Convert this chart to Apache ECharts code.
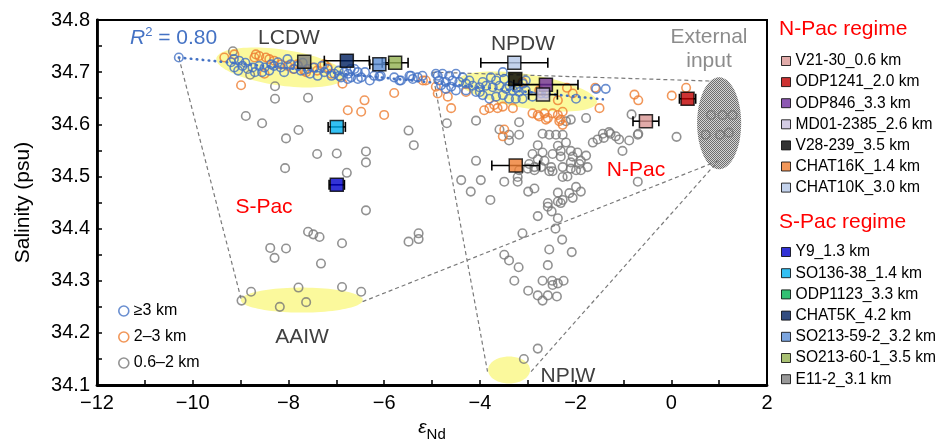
<!DOCTYPE html>
<html>
<head>
<meta charset="utf-8">
<title>eNd vs salinity</title>
<script src="https://cdn.jsdelivr.net/npm/echarts@6/dist/echarts.min.js"></script>
</head>
<body style="margin:0">
<div id="main" style="width:937px;height:447px;"></div>
<script type="text/javascript">
// seawater data, [eNd, salinity], by water depth
var deepPts = [
  [-10.29,34.728],
  [-9.20,34.719],[-9.14,34.725],[-9.03,34.722],[-9.13,34.709],[-8.96,34.712],[-8.85,34.706],[-8.75,34.709],
  [-8.61,34.712],[-8.50,34.709],[-8.36,34.715],[-8.22,34.719],[-8.16,34.709],[-8.02,34.725],[-7.95,34.715],
  [-7.88,34.706],[-8.09,34.700],[-7.74,34.703],[-7.60,34.706],[-7.46,34.709],[-7.39,34.693],[-7.25,34.700],
  [-7.18,34.706],[-7.04,34.697],[-6.90,34.690],[-6.83,34.700],[-6.69,34.690],[-6.62,34.706],[-6.55,34.700],
  [-6.48,34.690],[-6.21,34.693],[-6.10,34.692],[-5.79,34.690],[-5.65,34.684],[-5.44,34.693],[-5.30,34.690],
  [-4.88,34.693],[-4.85,34.684],[-4.81,34.675],
  [-8.90,34.718],[-8.70,34.700],[-8.40,34.703],[-8.30,34.712],[-7.80,34.712],[-7.55,34.697],[-7.30,34.712],
  [-7.10,34.693],[-6.95,34.703],[-6.75,34.697],[-6.70,34.706],[-6.40,34.700],[-6.30,34.684],[-9.05,34.703],
  [-8.55,34.700],[-7.70,34.718],[-6.55,34.687],[-6.76,34.687],[-6.94,34.693],[-6.07,34.693],[-5.68,34.684],
  [-5.47,34.693],[-5.40,34.687],[-5.20,34.693],
  [-4.92,34.697],[-4.78,34.697],[-4.64,34.693],[-4.50,34.697],[-4.71,34.681],[-4.57,34.684],[-4.43,34.681],
  [-4.29,34.678],[-4.15,34.674],[-4.01,34.671],[-3.87,34.674],[-3.73,34.671],[-3.59,34.674],[-3.77,34.690],
  [-3.49,34.687],[-3.45,34.668],[-3.31,34.665],[-3.18,34.662],[-3.04,34.665],[-3.10,34.678],[-3.52,34.656],
  [-3.66,34.653],[-3.80,34.649],[-3.94,34.656],[-4.08,34.662],[-4.29,34.665],[-3.39,34.649],[-3.25,34.649],
  [-3.11,34.649],[-2.90,34.653],[-2.72,34.659],[-2.62,34.659],[-3.04,34.684],[-3.52,34.700],[-4.50,34.665],
  [-4.71,34.668],[-1.99,34.649],[-1.57,34.668],[-1.37,34.668],
  [-4.36,34.690],[-4.22,34.684],[-3.94,34.681],[-3.66,34.684],[-3.38,34.674],[-4.60,34.672],[-4.00,34.662],[-3.24,34.670]
];
var midPts = [
  [-9.34,34.728],[-9.13,34.734],[-8.71,34.728],[-8.61,34.731],[-8.47,34.728],[-8.40,34.725],[-8.30,34.722],
  [-8.16,34.715],[-8.02,34.712],[-7.81,34.715],[-7.67,34.703],[-7.63,34.700],[-7.49,34.709],[-7.25,34.715],
  [-7.18,34.709],[-8.50,34.697],[-8.68,34.734],[-8.99,34.675],[-6.87,34.678],[-6.41,34.646],[-6.76,34.627],
  [-6.48,34.624],[-5.79,34.660],[-6.00,34.618],[-5.19,34.684],[-4.88,34.659],[-7.11,34.697],[-7.40,34.703],
  [-7.90,34.706],
  [-5.13,34.684],[-4.92,34.672],[-4.67,34.653],[-4.60,34.631],[-4.29,34.662],[-3.91,34.627],[-3.80,34.631],
  [-3.70,34.637],[-3.63,34.631],[-3.52,34.634],[-3.31,34.631],[-2.90,34.621],[-2.76,34.615],[-2.65,34.621],
  [-2.58,34.612],[-2.48,34.621],[-2.37,34.618],[-2.27,34.624],[-2.34,34.606],[-2.27,34.599],[-2.37,34.646],
  [-2.06,34.659],[-1.59,34.670],[-1.50,34.631],[-3.49,34.590],[-3.11,34.681],[-2.76,34.665],[-0.77,34.657],
  [-0.69,34.646],[0.01,34.655],[0.31,34.670],[-2.18,34.670],[-2.79,34.618],[-2.62,34.609],[-2.31,34.609],
  [-3.52,34.577]
];
var shallowPts = [
  [-9.16,34.740],[-8.80,34.695],[-8.28,34.673],[-8.28,34.649],[-7.59,34.651],[-8.89,34.616],[-8.55,34.602],
  [-7.79,34.589],[-8.05,34.573],[-5.49,34.588],[-5.38,34.560],[-7.40,34.543],[-6.99,34.544],[-6.38,34.548],
  [-6.38,34.527],[-8.07,34.516],[-6.78,34.507],[-6.38,34.435],[-7.59,34.394],[-7.48,34.389],[-7.35,34.384],
  [-6.88,34.372],[-8.38,34.363],[-8.05,34.362],[-8.29,34.344],[-7.32,34.333],[-5.49,34.375],[-5.28,34.391],
  [-5.28,34.380],[-8.78,34.279],[-8.98,34.262],[-7.79,34.287],[-8.18,34.250],[-7.63,34.259],[-6.88,34.288],
  [-6.48,34.279],
  [-4.69,34.602],[-4.08,34.607],[-3.18,34.604],[-1.78,34.612],[-2.10,34.609],[-2.20,34.606],[-3.39,34.580],
  [-3.18,34.580],[-3.39,34.569],[-3.59,34.590],[-2.69,34.582],[-2.55,34.580],[-2.41,34.580],[-2.27,34.580],
  [-2.79,34.560],[-2.37,34.559],[-2.20,34.565],[-1.64,34.565],[-1.54,34.571],[-1.41,34.574],[-1.27,34.582],
  [-1.09,34.571],[-0.88,34.569],[-0.70,34.580],[-1.02,34.549],[-2.90,34.543],[-2.69,34.546],[-2.48,34.543],
  [-2.31,34.549],[-2.10,34.549],[-1.96,34.546],[-1.78,34.540],[-2.06,34.538],[-2.31,34.538],[-2.79,34.533],
  [-2.65,34.530],[-2.97,34.524],[-2.86,34.518],[-2.72,34.518],[-2.51,34.518],[-2.27,34.518],[-2.10,34.527],
  [-1.89,34.530],[-2.10,34.515],[-1.99,34.512],[-1.89,34.512],[-1.75,34.518],[-4.08,34.530],[-3.18,34.512],
  [-3.00,34.515],[-2.86,34.512],[-2.55,34.510],[-2.48,34.510],[-1.92,34.524],[-3.21,34.499],[-3.21,34.490],
  [-2.27,34.499],[-2.17,34.500],[-4.39,34.493],[-3.98,34.493],[-3.49,34.490],[-4.19,34.471],[-3.78,34.455],
  [-2.99,34.471],[-2.86,34.477],[-2.37,34.469],[-2.13,34.468],[-1.99,34.480],[-1.89,34.471],[-2.06,34.459],
  [-2.37,34.452],[-2.27,34.455],[-2.31,34.449],[-2.58,34.449],[-2.58,34.442],[-2.50,34.433],[-2.37,34.420],
  [-2.79,34.424],[-2.42,34.400],[-3.11,34.391],[-0.70,34.490],[0.11,34.576],[-0.69,34.582],[-0.83,34.619],
  [-2.28,34.379],[-2.55,34.360],[-2.08,34.355],[-3.49,34.350],[-3.39,34.339],[-3.19,34.326],[-2.58,34.330],
  [-3.28,34.300],[-2.69,34.300],[-2.49,34.300],[-2.48,34.292],[-2.37,34.295],[-2.25,34.300],[-2.99,34.281],
  [-2.79,34.272],[-2.58,34.272],[-2.69,34.262],[-2.39,34.270],[-2.79,34.170],[-3.08,34.150],
  [-1.43,34.582],[-1.30,34.585],[-1.16,34.577],
  [0.83,34.618],[1.07,34.618],[1.28,34.618],[0.72,34.580],[1.02,34.580],[1.20,34.584]
];
var depthNames = ['\u22653 km', '2\u20133 km', '0.6\u20132 km'];

// sediment records: eNd, salinity estimate, eNd error
var npacNames = ['V21-30_0.6 km', 'ODP1241_2.0 km', 'ODP846_3.3 km', 'MD01-2385_2.6 km', 'V28-239_3.5 km', 'CHAT16K_1.4 km', 'CHAT10K_3.0 km'];
var npacEnd = [-0.53, 0.34, -2.62, -2.68, -3.26, -3.25, -3.28];
var npacSal = [34.606, 34.649, 34.676, 34.657, 34.687, 34.521, 34.718];
var npacErr = [0.27, 0.17, 0.67, 0.30, 0, 0.50, 0.70];
var spacNames = ['Y9_1.3 km', 'SO136-38_1.4 km', 'ODP1123_3.3 km', 'CHAT5K_4.2 km', 'SO213-59-2_3.2 km', 'SO213-60-1_3.5 km', 'E11-2_3.1 km'];
var spacEnd = [-6.99, -6.99, null, -6.78, -6.10, -5.77, -7.67];
var spacSal = [34.484, 34.595, null, 34.722, 34.715, 34.718, 34.720];
var spacErr = [0.16, 0.18, 0, 0.47, 0.20, 0.27, 0];

// regression (R2 = 0.80) and mixing outlines
var fitLine = [[-10.29, 34.728], [-1.43, 34.648]];
var outlines = [
  [[-10.29, 34.728], [-8.98, 34.262]],
  [[-6.45, 34.260], [0.98, 34.530]],
  [[-4.99, 34.700], [0.81, 34.683]],
  [[-4.99, 34.700], [-3.84, 34.126]],
  [[-2.93, 34.126], [0.98, 34.530]]
];
var waterMasses = [
  { x: -8.16, y: 34.709, a: 65, b: 18, rot: 8 },
  { x: -3.00, y: 34.663, a: 70, b: 17, rot: 9 },
  { x: -7.72, y: 34.263, a: 61, b: 12.5, rot: 0 },
  { x: -3.39, y: 34.129, a: 21, b: 13.5, rot: 0 },
  { x: 1.00, y: 34.602, a: 22, b: 46, rot: 0, hatch: true }
];

var npacColors = ['#d99694', '#c00000', '#7030a0', '#c9bfdd', '#000000', '#ed7d31', '#b4c7e7'];
var spacColors = ['#0000cc', '#00b0f0', '#00b050', '#002060', '#5b8fd6', '#92b050', '#7f7f7f'];
var FONT = 'Liberation Sans, Arial, Helvetica, sans-serif';

var hatch = document.createElement('canvas');
hatch.width = 2; hatch.height = 2;
var g = hatch.getContext('2d');
g.fillStyle = '#d4d4d4'; g.fillRect(0, 0, 2, 2);
g.fillStyle = '#6e6e6e'; g.fillRect(0, 0, 1, 1); g.fillRect(1, 1, 1, 1);

function ellipseItem(params, api) {
  var e = waterMasses[params.dataIndex];
  var c = api.coord([e.x, e.y]);
  var th = e.rot * Math.PI / 180;
  var pts = [];
  for (var i = 0; i < 90; i++) {
    var t = i / 90 * 2 * Math.PI;
    var dx = e.a * Math.cos(t), dy = e.b * Math.sin(t);
    pts.push([c[0] + dx * Math.cos(th) - dy * Math.sin(th), c[1] + dx * Math.sin(th) + dy * Math.cos(th)]);
  }
  return { type: 'polygon', shape: { points: pts },
    style: { fill: e.hatch ? { image: hatch, repeat: 'repeat' } : '#fbf99c' } };
}

function errorItem(params, api) {
  var x = api.value(0), y = api.value(1), e = api.value(2);
  if (!e) return null;
  var l = api.coord([x - e, y]), r = api.coord([x + e, y]);
  var st = { stroke: '#000', lineWidth: 1.6 };
  return { type: 'group', children: [
    { type: 'line', shape: { x1: l[0], y1: l[1], x2: r[0], y2: r[1] }, style: st },
    { type: 'line', shape: { x1: l[0], y1: l[1] - 5, x2: l[0], y2: l[1] + 5 }, style: st },
    { type: 'line', shape: { x1: r[0], y1: r[1] - 5, x2: r[0], y2: r[1] + 5 }, style: st }
  ] };
}

var errData = [];
npacEnd.forEach(function (v, i) { if (v != null) errData.push([v, npacSal[i], npacErr[i]]); });
spacEnd.forEach(function (v, i) { if (v != null) errData.push([v, spacSal[i], spacErr[i]]); });

function ring(name, pts, color) {
  return { type: 'scatter', name: name, data: pts, symbol: 'circle', symbolSize: 8.5, z: 3,
    itemStyle: { color: 'rgba(255,255,255,0)', borderColor: color, borderWidth: 1.6 } };
}
function proxy(name, x, y, color) {
  return { type: 'scatter', name: name, data: x == null ? [] : [[x, y]], symbol: 'rect', symbolSize: 13, z: 6,
    itemStyle: { color: color, borderColor: '#000', borderWidth: 1.5 } };
}

var series = [
  { type: 'custom', renderItem: ellipseItem, data: waterMasses.map(function (e) { return [e.x, e.y]; }), z: 1, silent: true }
];
outlines.forEach(function (seg) {
  series.push({ type: 'line', data: seg, symbol: 'none', z: 2, silent: true,
    lineStyle: { color: '#7a7a7a', width: 1.2, type: [4, 3] } });
});
series.push(ring(depthNames[2], shallowPts, '#777777'));
series.push(ring(depthNames[1], midPts, '#ed7d31'));
series.push(ring(depthNames[0], deepPts, '#4472c4'));
series.push({ type: 'line', data: fitLine, symbol: 'none', z: 4, silent: true,
  lineStyle: { color: '#4472c4', width: 2.6, type: [0.5, 5.5], cap: 'round' } });
series.push({ type: 'custom', renderItem: errorItem, data: errData, z: 5, silent: true });
npacNames.forEach(function (n, i) { series.push(proxy(n, npacEnd[i], npacSal[i], npacColors[i])); });
spacNames.forEach(function (n, i) { series.push(proxy(n, spacEnd[i], spacSal[i], spacColors[i])); });

function label(text, x, y, color) {
  return { type: 'text', x: x, y: y, z: 10,
    style: { text: text, fill: color, font: '21px ' + FONT, align: 'center', verticalAlign: 'middle' } };
}

var legendText = { fontSize: 16, color: '#000', fontFamily: FONT, lineHeight: 16 };
var regimeText = { fontSize: 15.6, color: '#000', fontFamily: FONT, lineHeight: 16 };
var myChart = echarts.init(document.getElementById('main'));
var option = {
  backgroundColor: '#fff',
  animation: false,
  textStyle: { fontFamily: FONT },
  grid: { left: 97, right: 170, top: 20, bottom: 55, show: true, borderColor: '#000', borderWidth: 2 },
  xAxis: {
    type: 'value', min: -12, max: 2, interval: 1,
    name: '{e|\u03b5}{n|Nd}', nameLocation: 'middle', nameGap: 32,
    nameTextStyle: { rich: {
      e: { fontSize: 19, fontStyle: 'italic', fontFamily: FONT, color: '#000', lineHeight: 24, verticalAlign: 'top' },
      n: { fontSize: 15, fontFamily: FONT, color: '#000', lineHeight: 24, verticalAlign: 'bottom' } } },
    axisLine: { onZero: false, lineStyle: { color: '#000', width: 2.8 } },
    axisTick: { inside: true, length: 5, lineStyle: { color: '#000', width: 1.5 } },
    axisLabel: { fontSize: 20, color: '#000', margin: 8,
      formatter: function (v) { return v % 2 === 0 ? String(v).replace('-', '\u2212') : ''; } },
    splitLine: { show: false }
  },
  yAxis: {
    type: 'value', min: 34.1, max: 34.8, interval: 0.05,
    name: 'Salinity (psu)', nameLocation: 'middle', nameGap: 63,
    nameTextStyle: { fontSize: 21, color: '#000', fontFamily: FONT },
    axisLine: { onZero: false, lineStyle: { color: '#000', width: 2.8 } },
    axisTick: { inside: true, length: 5, lineStyle: { color: '#000', width: 1.5 } },
    axisLabel: { fontSize: 20, color: '#000', margin: 7,
      formatter: function (v) { return Math.round(v * 100) % 10 === 0 ? v.toFixed(1) : ''; } },
    splitLine: { show: false }
  },
  legend: [
    { data: depthNames, orient: 'vertical', left: 113, top: 298, itemWidth: 10, itemHeight: 10, itemGap: 10,
      icon: 'circle', textStyle: legendText, itemStyle: { borderWidth: 1.6 } },
    { data: npacNames, orient: 'vertical', left: 776, top: 48, itemWidth: 9, itemHeight: 9, itemGap: 5.1,
      icon: 'rect', textStyle: regimeText, itemStyle: { borderWidth: 1 } },
    { data: spacNames, orient: 'vertical', left: 776, top: 239, itemWidth: 9, itemHeight: 9, itemGap: 5.2,
      icon: 'rect', textStyle: regimeText, itemStyle: { borderWidth: 1 } }
  ],
  graphic: [
    { type: 'text', x: 130, y: 38, z: 10, style: {
      text: '{r|R}{s|2}{t| = 0.80}', fill: '#4472c4', verticalAlign: 'middle',
      rich: { r: { fontSize: 21, fontStyle: 'italic', fontFamily: FONT, fill: '#4472c4', lineHeight: 24 },
              s: { fontSize: 13, fontFamily: FONT, fill: '#4472c4', lineHeight: 24, verticalAlign: 'top' },
              t: { fontSize: 21, fontFamily: FONT, fill: '#4472c4', lineHeight: 24 } } } },
    label('LCDW', 289, 38, '#404040'),
    label('NPDW', 523, 44, '#404040'),
    label('External', 709, 37, '#8c8c8c'),
    label('input', 709, 61, '#8c8c8c'),
    label('S-Pac', 264, 207, '#ff0000'),
    label('N-Pac', 636, 170, '#ff0000'),
    label('AAIW', 302, 337, '#404040'),
    label('NPIW', 568, 376, '#404040'),
    { type: 'text', x: 779, y: 29, style: { text: 'N-Pac regime', fill: '#ff0000', font: '21px ' + FONT, verticalAlign: 'middle' } },
    { type: 'text', x: 779, y: 222, style: { text: 'S-Pac regime', fill: '#ff0000', font: '21px ' + FONT, verticalAlign: 'middle' } }
  ],
  series: series
};
myChart.setOption(option);
</script>
</body>
</html>
